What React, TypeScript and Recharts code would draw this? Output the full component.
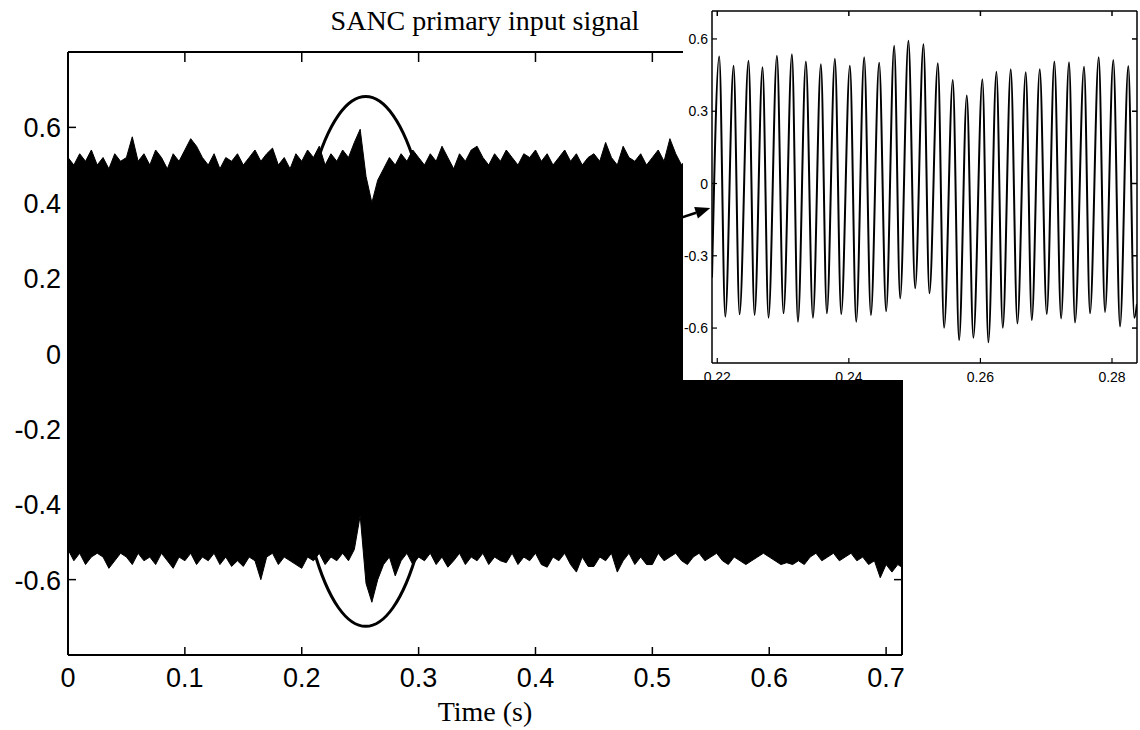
import React from 'react';
import {
  ComposedChart,
  LineChart,
  Area,
  Line,
  XAxis,
  YAxis,
  ReferenceArea,
  ReferenceLine,
} from 'recharts';

// main signal: envelope read every 5 ms (upper peaks / lower troughs)
const MAIN_DT = 0.005;
const mainUpper = [
  0.52, 0.5, 0.53, 0.51, 0.54, 0.5, 0.52, 0.49, 0.53, 0.51,
  0.52, 0.575, 0.51, 0.53, 0.5, 0.54, 0.52, 0.49, 0.53, 0.51,
  0.54, 0.57, 0.55, 0.52, 0.5, 0.53, 0.49, 0.52, 0.51, 0.53,
  0.5, 0.52, 0.54, 0.51, 0.53, 0.545, 0.5, 0.52, 0.49, 0.53,
  0.51, 0.54, 0.52, 0.55, 0.5, 0.53, 0.51, 0.54, 0.52, 0.56,
  0.595, 0.47, 0.4, 0.46, 0.49, 0.52, 0.5, 0.53, 0.51, 0.54,
  0.52, 0.5, 0.53, 0.51, 0.55, 0.52, 0.49, 0.53, 0.51, 0.54,
  0.55, 0.52, 0.5, 0.53, 0.51, 0.54, 0.52, 0.5, 0.53, 0.52,
  0.54, 0.51, 0.53, 0.5, 0.52, 0.54, 0.51, 0.53, 0.5, 0.52,
  0.53, 0.51, 0.56, 0.52, 0.5, 0.55, 0.52, 0.51, 0.53, 0.5,
  0.52, 0.54, 0.51, 0.57, 0.53, 0.5, 0.52, 0.53, 0.51, 0.54,
  0.52, 0.5, 0.53, 0.51, 0.54, 0.52, 0.5, 0.53, 0.51, 0.52,
  0.54, 0.51, 0.53, 0.5, 0.52, 0.54, 0.51, 0.53, 0.5, 0.52,
  0.53, 0.51, 0.54, 0.52, 0.5, 0.53, 0.51, 0.54, 0.52, 0.5,
  0.53, 0.51, 0.52, 0.5,
];
const mainLower = [
  -0.52, -0.55, -0.53, -0.56, -0.54, -0.53, -0.54, -0.57, -0.55, -0.53,
  -0.54, -0.56, -0.53, -0.55, -0.54, -0.56, -0.53, -0.55, -0.57, -0.54,
  -0.55, -0.53, -0.56, -0.54, -0.55, -0.53, -0.56, -0.54, -0.565, -0.55,
  -0.565, -0.54, -0.55, -0.6, -0.54, -0.53, -0.56, -0.54, -0.55, -0.56,
  -0.57, -0.54, -0.55, -0.53, -0.56, -0.54, -0.55, -0.53, -0.55, -0.52,
  -0.43, -0.61, -0.66, -0.6, -0.56, -0.54, -0.59, -0.55, -0.53, -0.56,
  -0.54, -0.55, -0.53, -0.56, -0.54, -0.567, -0.55, -0.53, -0.56, -0.54,
  -0.55, -0.53, -0.56, -0.54, -0.55, -0.555, -0.53, -0.56, -0.54, -0.55,
  -0.53, -0.56, -0.567, -0.54, -0.55, -0.53, -0.56, -0.58, -0.54, -0.565,
  -0.565, -0.54, -0.55, -0.53, -0.58, -0.55, -0.53, -0.56, -0.54, -0.56,
  -0.56, -0.53, -0.55, -0.54, -0.53, -0.55, -0.56, -0.54, -0.53, -0.55,
  -0.54, -0.53, -0.55, -0.56, -0.54, -0.55, -0.56, -0.55, -0.54, -0.53,
  -0.54, -0.55, -0.56, -0.555, -0.56, -0.55, -0.56, -0.54, -0.53, -0.55,
  -0.54, -0.53, -0.55, -0.54, -0.53, -0.55, -0.54, -0.56, -0.55, -0.595,
  -0.56, -0.58, -0.56, -0.57,
];
const mainXTicks = [0, 0.1, 0.2, 0.3, 0.4, 0.5, 0.6, 0.7];
const mainYTicks = [-0.6, -0.4, -0.2, 0, 0.2, 0.4, 0.6];

// zoomed window 0.22 - 0.284 s
const insetPeakTimes = [
  0.2203, 0.22248, 0.22475, 0.22688, 0.22907, 0.23135, 0.23347, 0.23575, 0.23788, 0.24016,
  0.24233, 0.24461, 0.24689, 0.24906, 0.25134, 0.25353, 0.2558, 0.25793, 0.2603, 0.26243,
  0.26461, 0.26689, 0.26902, 0.27124, 0.27347, 0.27575, 0.27798, 0.2802, 0.28248,
];
const insetPeakValues = [
  0.527, 0.489, 0.509, 0.483, 0.53, 0.537, 0.506, 0.495, 0.518, 0.489,
  0.524, 0.501, 0.572, 0.592, 0.578, 0.499, 0.43, 0.365, 0.433, 0.464,
  0.474, 0.462, 0.474, 0.506, 0.503, 0.485, 0.524, 0.513, 0.488,
];
const insetTroughTimes = [
  0.22122, 0.22339, 0.22567, 0.22779, 0.23007, 0.23226, 0.23454, 0.23666, 0.23884, 0.24112,
  0.24335, 0.24567, 0.2478, 0.25008, 0.25225, 0.25448, 0.25676, 0.25893, 0.26121, 0.2634,
  0.26562, 0.26781, 0.27008, 0.27226, 0.27438, 0.27666, 0.27894, 0.28122, 0.28339,
];
const insetTroughValues = [
  -0.553, -0.543, -0.546, -0.557, -0.539, -0.574, -0.557, -0.539, -0.542, -0.574,
  -0.546, -0.53, -0.477, -0.435, -0.456, -0.599, -0.65, -0.64, -0.659, -0.599,
  -0.581, -0.567, -0.542, -0.56, -0.577, -0.539, -0.533, -0.593, -0.557,
];
const insetStart = { t: 0.2192, v: -0.39 };
const insetEnd = { t: 0.2838, v: -0.5 };
const insetXTicks = [0.22, 0.24, 0.26, 0.28];
const insetYTicks = [-0.6, -0.3, 0, 0.3, 0.6];

const mainData = mainUpper.map((hi, i) => ({ t: i * MAIN_DT, band: [mainLower[i], hi] }));

const insetData = [{ t: insetStart.t, v: insetStart.v }];
insetPeakTimes.forEach((t, i) => {
  insetData.push({ t, v: insetPeakValues[i] });
  insetData.push({ t: insetTroughTimes[i], v: insetTroughValues[i] });
});
insetData.push({ t: insetEnd.t, v: insetEnd.v });

const SANS = '"Liberation Sans", Arial, sans-serif';
const SERIF = '"Liberation Serif", "Times New Roman", serif';

const fmt = (v: number, d: number) => (v === 0 ? '0' : v.toFixed(d));

// MATLAB style ticks: drawn inward, labels outside
const MainBottomTick = ({ x, y, payload }: any) => (
  <g>
    <line x1={x} y1={y} x2={x} y2={y - 8} stroke="#000" strokeWidth={1.5} />
    <text x={x} y={y + 32} textAnchor="middle" fontSize={27} fontFamily={SANS} fill="#000">
      {fmt(payload.value, 1)}
    </text>
  </g>
);
const MainLeftTick = ({ x, y, payload }: any) => (
  <g>
    <line x1={x} y1={y} x2={x + 8} y2={y} stroke="#000" strokeWidth={1.5} />
    <text x={x - 7} y={y + 10} textAnchor="end" fontSize={27} fontFamily={SANS} fill="#000">
      {fmt(payload.value, 1)}
    </text>
  </g>
);
const TopTick = (len: number) => ({ x, y }: any) => (
  <line x1={x} y1={y} x2={x} y2={y + len} stroke="#000" strokeWidth={1.5} />
);
const RightTick = (len: number) => ({ x, y }: any) => (
  <line x1={x} y1={y} x2={x - len} y2={y} stroke="#000" strokeWidth={1.5} />
);
const InsetBottomTick = ({ x, y, payload }: any) => (
  <g>
    <line x1={x} y1={y} x2={x} y2={y - 5} stroke="#000" strokeWidth={1.2} />
    <text x={x} y={y + 19} textAnchor="middle" fontSize={14} fontFamily={SANS} fill="#000">
      {fmt(payload.value, 2)}
    </text>
  </g>
);
const InsetLeftTick = ({ x, y, payload }: any) => (
  <g>
    <line x1={x} y1={y} x2={x + 5} y2={y} stroke="#000" strokeWidth={1.2} />
    <text x={x - 4} y={y + 5} textAnchor="end" fontSize={14} fontFamily={SANS} fill="#000">
      {fmt(payload.value, 1)}
    </text>
  </g>
);

const EllipseShape = (p: any) => (
  <ellipse
    cx={p.x + p.width / 2}
    cy={p.y + p.height / 2}
    rx={p.width / 2}
    ry={p.height / 2}
    fill="none"
    stroke="#000"
    strokeWidth={3}
  />
);

const ArrowShape = (p: any) => {
  const { x1, y1, x2, y2 } = p;
  const a = Math.atan2(y2 - y1, x2 - x1);
  const len = 15;
  const w = 6;
  const bx = x2 - len * Math.cos(a);
  const by = y2 - len * Math.sin(a);
  const px = -Math.sin(a) * w;
  const py = Math.cos(a) * w;
  return (
    <g>
      <line x1={x1} y1={y1} x2={bx} y2={by} stroke="#000" strokeWidth={2.5} />
      <polygon points={`${x2},${y2} ${bx + px},${by + py} ${bx - px},${by - py}`} fill="#000" />
    </g>
  );
};

const axisLine = { stroke: '#000', strokeWidth: 2 };

export default function App() {
  return (
    <div style={{ position: 'absolute', left: 0, top: 0, width: 1140, height: 730, background: '#fff' }}>
      <div style={{ position: 'absolute', left: 0, top: 0 }}>
        <ComposedChart
          width={1140}
          height={730}
          data={mainData}
          margin={{ top: 42, right: 228, bottom: 45, left: 8 }}
        >
          <XAxis
            xAxisId="b"
            type="number"
            dataKey="t"
            domain={[0, 0.7136]}
            allowDataOverflow
            ticks={mainXTicks}
            interval={0}
            height={30}
            tickSize={0}
            tickMargin={0}
            tickLine={false}
            axisLine={axisLine}
            tick={MainBottomTick}
          />
          <XAxis
            xAxisId="top"
            orientation="top"
            type="number"
            dataKey="t"
            domain={[0, 0.7136]}
            allowDataOverflow
            ticks={mainXTicks}
            interval={0}
            height={10}
            tickSize={0}
            tickMargin={0}
            tickLine={false}
            axisLine={axisLine}
            tick={TopTick(10)}
          />
          <YAxis
            yAxisId="l"
            type="number"
            domain={[-0.8, 0.8]}
            allowDataOverflow
            ticks={mainYTicks}
            interval={0}
            width={60}
            tickSize={0}
            tickMargin={0}
            tickLine={false}
            axisLine={axisLine}
            tick={MainLeftTick}
          />
          <YAxis
            yAxisId="r"
            orientation="right"
            type="number"
            domain={[-0.8, 0.8]}
            allowDataOverflow
            ticks={mainYTicks}
            interval={0}
            width={10}
            tickSize={0}
            tickMargin={0}
            tickLine={false}
            axisLine={axisLine}
            tick={RightTick(8)}
          />
          <Area
            xAxisId="b"
            yAxisId="l"
            type="linear"
            dataKey="band"
            stroke="#000"
            strokeWidth={1}
            fill="#000"
            fillOpacity={1}
            dot={false}
            activeDot={false}
            isAnimationActive={false}
          />
          <ReferenceArea
            xAxisId="b"
            yAxisId="l"
            x1={0.1915}
            x2={0.318}
            y1={-0.724}
            y2={0.682}
            shape={EllipseShape}
          />
        </ComposedChart>
      </div>

      <svg
        width={1140}
        height={730}
        style={{ position: 'absolute', left: 0, top: 0, pointerEvents: 'none' }}
      >
        <text x={485} y={30} textAnchor="middle" fontSize={28} fontFamily={SERIF} fill="#000">
          SANC primary input signal
        </text>
        <text x={485} y={721} textAnchor="middle" fontSize={28} fontFamily={SERIF} fill="#000">
          Time (s)
        </text>
      </svg>

      <div style={{ position: 'absolute', left: 683, top: 0, width: 457, height: 380, background: '#fff' }} />

      <div style={{ position: 'absolute', left: 660, top: 0 }}>
        <LineChart
          width={480}
          height={400}
          data={insetData}
          margin={{ top: 1, right: 0, bottom: 17, left: 12 }}
        >
          <XAxis
            xAxisId="b"
            type="number"
            dataKey="t"
            domain={[0.2192, 0.2838]}
            allowDataOverflow
            ticks={insetXTicks}
            interval={0}
            height={20}
            tickSize={0}
            tickMargin={0}
            tickLine={false}
            axisLine={{ stroke: '#000', strokeWidth: 1.5 }}
            tick={InsetBottomTick}
          />
          <XAxis
            xAxisId="top"
            orientation="top"
            type="number"
            dataKey="t"
            domain={[0.2192, 0.2838]}
            allowDataOverflow
            ticks={insetXTicks}
            interval={0}
            height={10}
            tickSize={0}
            tickMargin={0}
            tickLine={false}
            axisLine={{ stroke: '#000', strokeWidth: 1.5 }}
            tick={TopTick(5)}
          />
          <YAxis
            yAxisId="l"
            type="number"
            domain={[-0.745, 0.716]}
            allowDataOverflow
            ticks={insetYTicks}
            interval={0}
            width={40}
            tickSize={0}
            tickMargin={0}
            tickLine={false}
            axisLine={{ stroke: '#000', strokeWidth: 1.5 }}
            tick={InsetLeftTick}
          />
          <YAxis
            yAxisId="r"
            orientation="right"
            type="number"
            domain={[-0.745, 0.716]}
            allowDataOverflow
            ticks={insetYTicks}
            interval={0}
            width={3}
            tickSize={0}
            tickMargin={0}
            tickLine={false}
            axisLine={{ stroke: '#000', strokeWidth: 1.5 }}
            tick={RightTick(5)}
          />
          <Line
            xAxisId="b"
            yAxisId="l"
            type="monotone"
            dataKey="v"
            stroke="#000"
            strokeWidth={2}
            dot={false}
            activeDot={false}
            isAnimationActive={false}
          />
          <ReferenceLine
            xAxisId="b"
            yAxisId="l"
            segment={[
              { x: 0.21362, y: -0.15 },
              { x: 0.21894, y: -0.102 },
            ]}
            ifOverflow="visible"
            shape={ArrowShape}
          />
        </LineChart>
      </div>
    </div>
  );
}
